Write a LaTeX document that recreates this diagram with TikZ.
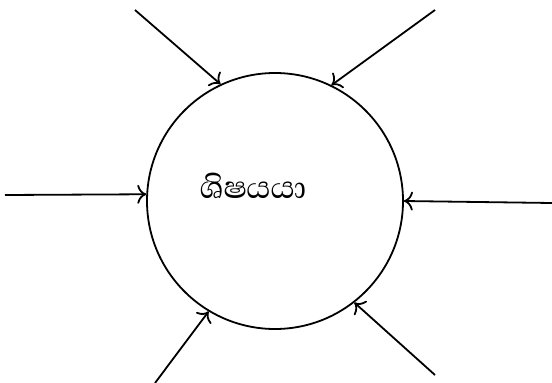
\documentclass[tikz,border=0pt]{standalone}
\usepackage{fontspec}
\newfontfamily\sinhalafont[Script=Sinhala]{Abhaya Libre}
\usetikzlibrary{arrows.meta}
\begin{document}
\begin{tikzpicture}[x=1pt,y=-1pt,
  inarrow/.style={draw, line width=1.8pt, -{To[length=9pt,width=19pt,line width=1.8pt]}}]
\useasboundingbox (0,0) rectangle (552,383);
\node[circle, draw, line width=1.8pt, minimum size=256pt, inner sep=0pt] (c) at (275,201) {};
\node[font=\sinhalafont\fontsize{40}{46}\selectfont] (t) at (253,186) {ශිෂයයා};
\coordinate (s1) at (135,10);
\coordinate (s2) at (435,10);
\coordinate (s3) at (5,195);
\coordinate (s4) at (552,203);
\coordinate (s5) at (155,383);
\coordinate (s6) at (435,375);
\draw[inarrow] (s1) -- (c.115.8);
\draw[inarrow] (s2) -- (c.64.4);
\draw[inarrow] (s3) -- (c.177.4);
\draw[inarrow] (s4) -- (c.-0.9);
\draw[inarrow] (s5) -- (c.239.2);
\draw[inarrow] (s6) -- (c.-52.2);
\end{tikzpicture}
\end{document}
